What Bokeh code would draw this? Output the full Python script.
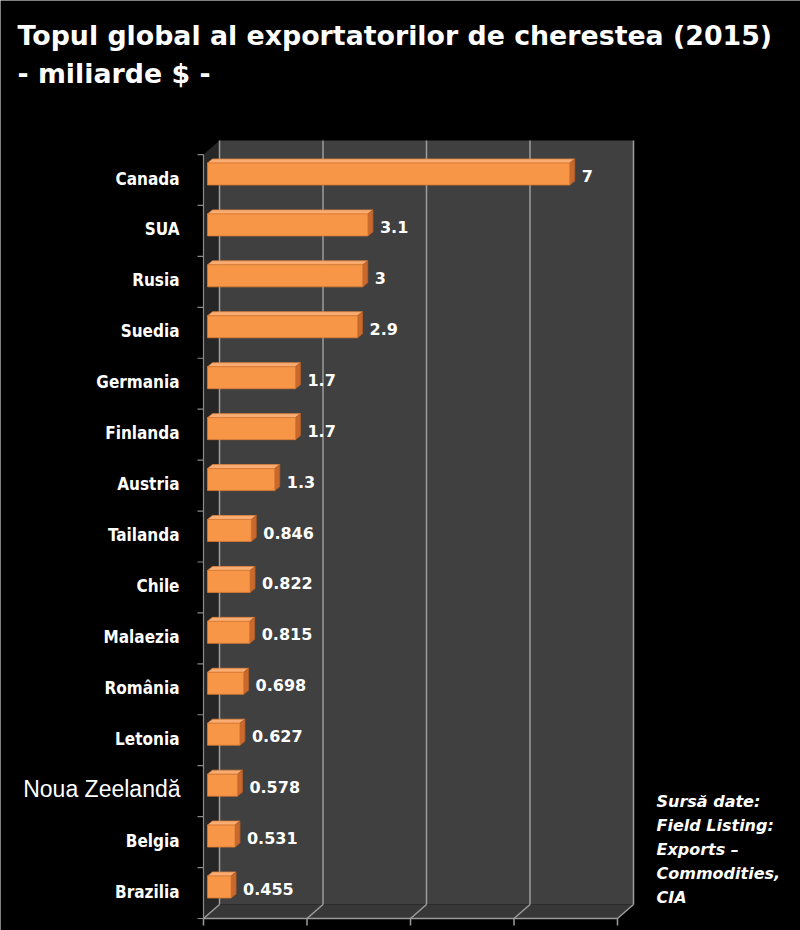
from bokeh.plotting import figure
from bokeh.models import Range1d
from bokeh.core.properties import value
from bokeh.embed import file_html
from bokeh.resources import INLINE

# ---------------- data ----------------
countries = ["Canada", "SUA", "Rusia", "Suedia", "Germania", "Finlanda", "Austria",
             "Tailanda", "Chile", "Malaezia", "România", "Letonia", "Noua Zeelandă",
             "Belgia", "Brazilia"]
exports = [7, 3.1, 3, 2.9, 1.7, 1.7, 1.3, 0.846, 0.822, 0.815, 0.698, 0.627, 0.578, 0.531, 0.455]
value_labels = ["7", "3.1", "3", "2.9", "1.7", "1.7", "1.3", "0.846", "0.822", "0.815",
                "0.698", "0.627", "0.578", "0.531", "0.455"]
axis_ticks = [0, 2, 4, 6, 8]
title_lines = ["Topul global al exportatorilor de cherestea (2015)", "- miliarde $ -"]
source_lines = ["Sursă date:", "Field Listing:", "Exports –", "Commodities,", "CIA"]
large_label = "Noua Zeelandă"

# ---------------- layout ----------------
W, H = 800, 930
KX = 51.75          # px per unit of value
KY = 50.93          # px per category
X0, Y0 = 203, 179.5   # px of value 0 / centre of first category (front plane)
TXT = -8              # vertical text correction (px)

def fx(px):
    return (px - X0) / KX

def fy(py):
    return (py - Y0) / KY

def dx(px):
    return px / KX

def dy(py):
    return py / KY

n = len(countries)
xmax = axis_ticks[-1]
top_y, bot_y = -0.5, n - 0.5
WX, WY = dx(16), dy(-14)     # wall depth
BX, BY = dx(4), dy(-6)       # bar plane offset
DX, DY = dx(5), dy(-4)       # bar depth
HH = dy(11)                  # half bar height

p = figure(width=W, height=H, output_backend="svg", toolbar_location=None,
           x_range=Range1d(-X0 / KX, (W - X0) / KX),
           y_range=Range1d((H - Y0) / KY, -Y0 / KY),
           min_border=0, background_fill_color="black", border_fill_color="black",
           outline_line_color=None)
p.axis.visible = False
p.grid.visible = False

# walls
p.quad(left=[WX], right=[xmax + WX], top=[top_y + WY], bottom=[bot_y + WY],
       fill_color="#404040", line_color=None)
p.patch([0, WX, WX, 0], [top_y, top_y + WY, bot_y + WY, bot_y],
        fill_color="#262626", line_color=None)
p.patch([0, xmax, xmax + WX, WX], [bot_y, bot_y, bot_y + WY, bot_y + WY],
        fill_color="#373737", line_color=None)

grid_col = "#9c9c9c"
p.segment(x0=[t + WX for t in axis_ticks], y0=[top_y + WY] * len(axis_ticks),
          x1=[t + WX for t in axis_ticks], y1=[bot_y + WY] * len(axis_ticks),
          line_color=grid_col, line_width=1.5)
p.segment(x0=[t + WX for t in axis_ticks], y0=[bot_y + WY] * len(axis_ticks),
          x1=axis_ticks, y1=[bot_y] * len(axis_ticks),
          line_color=grid_col, line_width=1.5)
# front axes
p.segment(x0=[0], y0=[bot_y], x1=[xmax], y1=[bot_y], line_color=grid_col, line_width=1.5)
p.segment(x0=axis_ticks, y0=[bot_y] * len(axis_ticks), x1=axis_ticks,
          y1=[bot_y + dy(7)] * len(axis_ticks), line_color=grid_col, line_width=1.5)
p.segment(x0=[0], y0=[top_y], x1=[0], y1=[bot_y], line_color="#8a8a8a", line_width=1.2)
bounds = [i - 0.5 for i in range(n + 1)]
p.segment(x0=[dx(-6)] * len(bounds), y0=bounds, x1=[0] * len(bounds), y1=bounds,
          line_color="#8a8a8a", line_width=1.2)

# bars
ys = list(range(n))
tops = [i + BY - HH for i in ys]
bots = [i + BY + HH for i in ys]
ends = [v + BX for v in exports]
top_xs = [[BX, e, e + DX, BX + DX] for e in ends]
top_ys = [[t, t, t + DY, t + DY] for t in tops]
side_xs = [[e, e + DX, e + DX, e] for e in ends]
side_ys = [[t, t + DY, b + DY, b] for t, b in zip(tops, bots)]
p.patches(top_xs, top_ys, fill_color="#f9ad73", line_color="#e08540", line_width=0.8)
p.patches(side_xs, side_ys, fill_color="#c9692d", line_color="#b45c25", line_width=0.8)
p.quad(left=[BX] * n, right=ends, top=tops, bottom=bots,
       fill_color="#f79646", line_color="#d97a34", line_width=0.8)

# value labels
p.text(x=[e + DX + dx(7) for e in ends], y=[i + BY + dy(10 + TXT) for i in ys], text=value_labels,
       text_color="white", text_font=value("DejaVu Sans"), text_font_style="bold",
       text_font_size="16px", text_align="left", text_baseline="alphabetic")

# category labels
norm = [i for i, c in enumerate(countries) if c != large_label]
big = [i for i, c in enumerate(countries) if c == large_label]
p.text(x=[fx(179)] * len(norm), y=[i + dy(6.5 + TXT) for i in norm], text=[countries[i] for i in norm],
       text_color="white", text_font=value("'DejaVu Sans Condensed', 'DejaVu Sans'"),
       text_font_style="bold", text_font_size="17px", text_align="right",
       text_baseline="alphabetic")
p.text(x=[fx(180)] * len(big), y=[i + dy(5.5 + TXT) for i in big], text=[countries[i] for i in big],
       text_color="white", text_font=value("Liberation Sans"), text_font_size="23px",
       text_align="right", text_baseline="alphabetic")

# title
p.text(x=[fx(17)] * 2, y=[fy(43 + TXT), fy(81 + TXT)], text=title_lines, text_color="white",
       text_font=value("DejaVu Sans"), text_font_style="bold", text_font_size="26.8px",
       text_align="left", text_baseline="alphabetic")

# source note
p.text(x=[fx(656)] * len(source_lines),
       y=[fy(809 + 24 * k + TXT) for k in range(len(source_lines))],
       text=source_lines, text_color="white", text_font=value("DejaVu Sans"),
       text_font_style="bold italic", text_font_size="16px", text_align="left",
       text_baseline="alphabetic")

open("out.html", "w").write(file_html(p, INLINE))
